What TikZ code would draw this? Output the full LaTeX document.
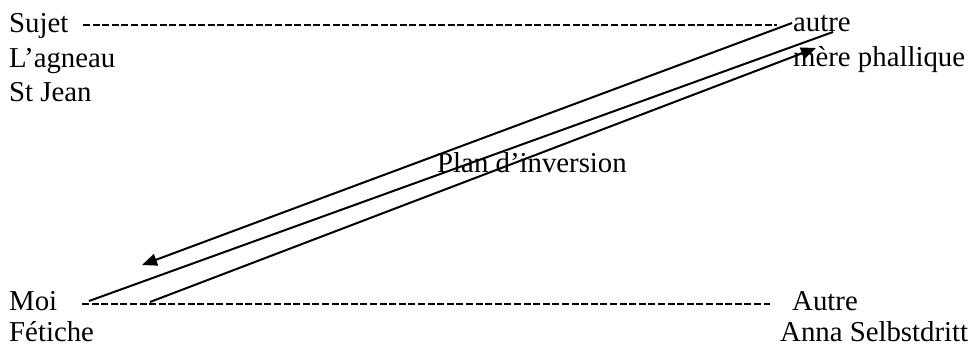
\documentclass[tikz,border=0pt]{standalone}
\usepackage{fontspec}
\setmainfont{Liberation Serif}
\usetikzlibrary{arrows.meta}

\begin{document}
\begin{tikzpicture}[x=1pt,y=-1pt,
    lbl/.style={anchor=base west,inner sep=0pt,font=\fontsize{28.8}{34}\selectfont},
    dashline/.style={line width=2pt,dash pattern=on 7pt off 2.6pt},
    invline/.style={line width=2pt}]
  \useasboundingbox (0,0) rectangle (971,347);
  % left column
  \node[lbl] (sujet) at (9,33) {Sujet};
  \node[lbl] (agneau) at (9,68) {L’agneau};
  \node[lbl] (jean) at (9,102) {St Jean};
  \node[lbl] (moi) at (9,310) {Moi};
  \node[lbl] (fetiche) at (9,341) {Fétiche};
  % right column
  \node[lbl] (autre) at (793,32) {autre};
  \node[lbl] (mere) at (793,67) {mère phallique};
  \node[lbl] (Autre) at (792,310) {Autre};
  \node[lbl] (anna) at (780,341) {Anna Selbstdritt};
  \node[lbl] (plan) at (437,173) {Plan d’inversion};
  % ends of the lines
  \coordinate (sujetR) at (83,25);
  \coordinate (autreL) at (777,25);
  \coordinate (moiR) at (82,304);
  \coordinate (AutreL) at (770,304);
  \coordinate (moiA) at (89,301);
  \coordinate (autreA) at (833,32);
  \coordinate (autreB) at (792,23);
  \coordinate (moiB) at (142,265);
  \coordinate (moiC) at (150,302);
  \coordinate (mereC) at (816,48);
  \draw[dashline] (sujetR) -- (autreL);
  \draw[dashline] (moiR) -- (AutreL);
  \draw[invline] (moiA) -- (autreA);
  \draw[invline, -{Triangle[length=15pt,width=12pt]}] (autreB) -- (moiB);
  \draw[invline, -{Triangle[length=15pt,width=12pt]}] (moiC) -- (mereC);
\end{tikzpicture}
\end{document}
